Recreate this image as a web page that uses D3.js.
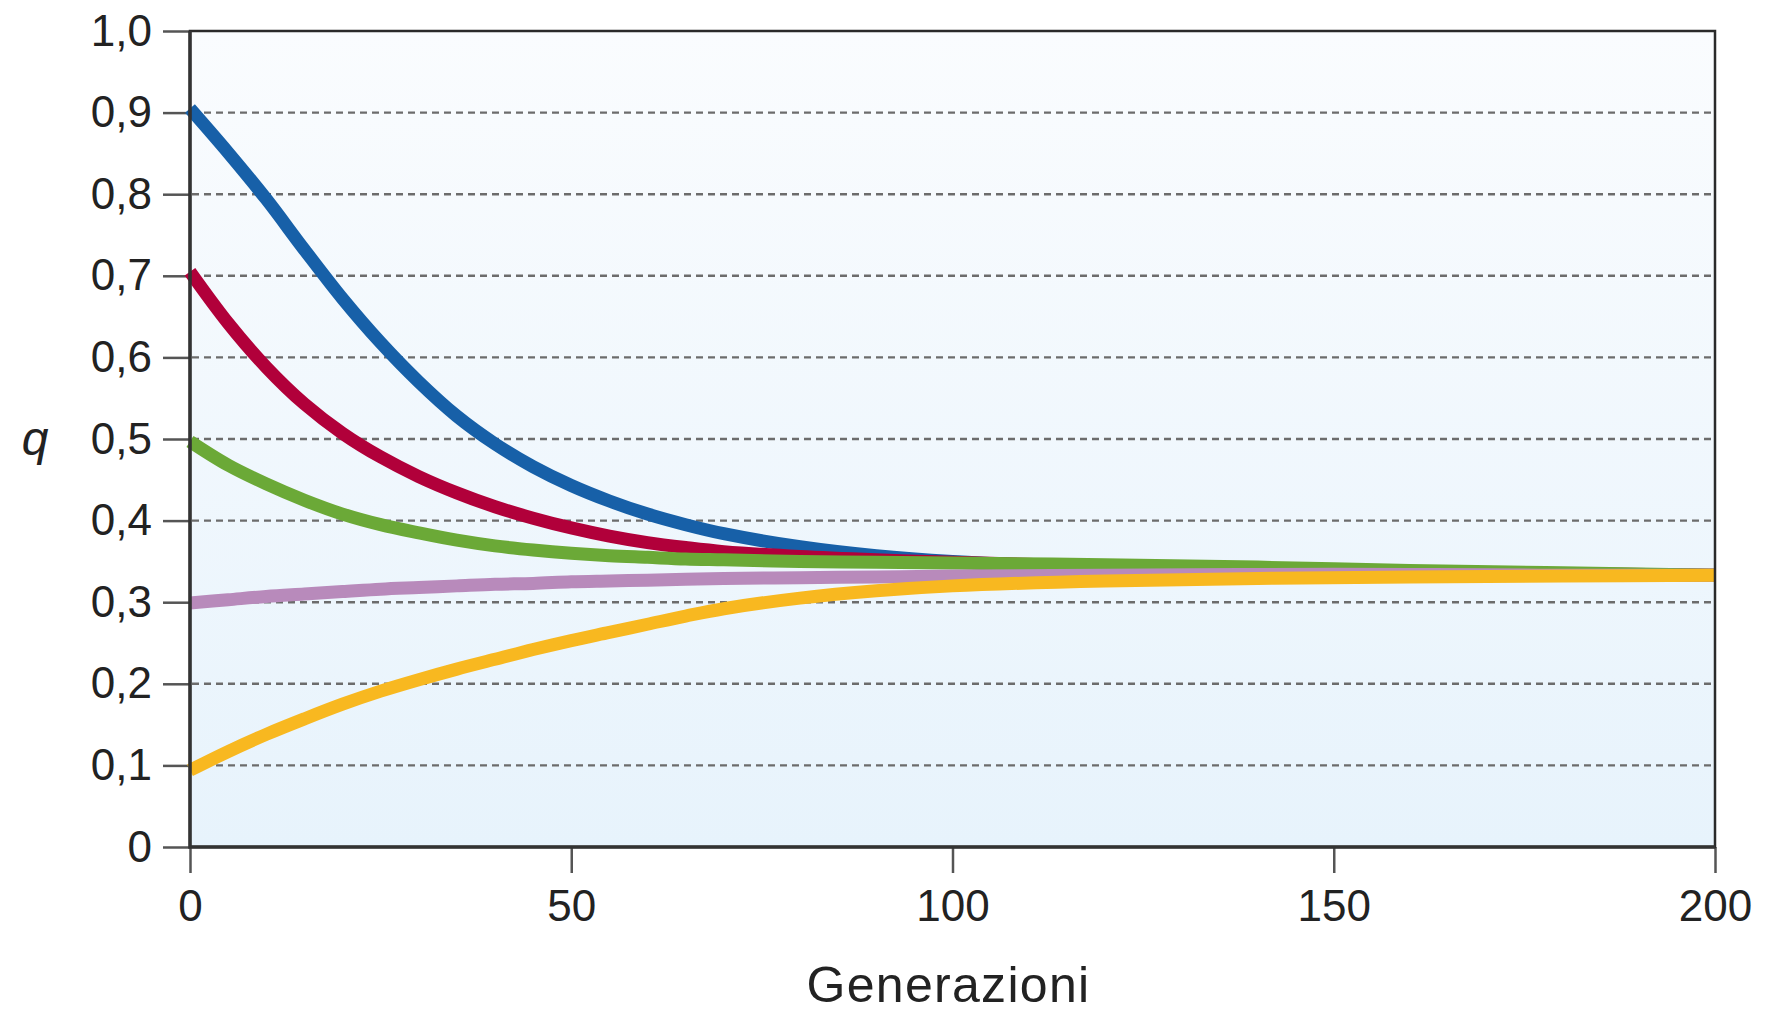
<!DOCTYPE html>
<html lang="it">
<head>
  <meta charset="UTF-8">
  <title>Frequenza allelica q per generazioni</title>
  <script src="https://d3js.org/d3.v7.min.js"></script>
  <style>
    body { margin: 0; padding: 0; background: #fff; }
    svg { display: block; font-family: "Liberation Sans", Arial, sans-serif; }
    .tick text { fill: #222; }
    .grid line { stroke: #6c6c6c; stroke-width: 2.4; stroke-dasharray: 7,5; }
    .series { fill: none; stroke-width: 13; stroke-linecap: butt; }
  </style>
</head>
<body>
  <div id="chart"></div>
  <script>
    // generations (x) shared by every curve
    const generations = [0, 5, 10, 15, 20, 25, 30, 35, 40, 45, 50, 55, 60, 65, 70, 80, 90, 100, 120, 140, 160, 180, 200];

    // q values
    const qBlue   = [0.905, 0.851, 0.794, 0.732, 0.672, 0.618, 0.570, 0.528, 0.494, 0.466, 0.443, 0.424, 0.408, 0.395, 0.384, 0.368, 0.357, 0.350, 0.342, 0.338, 0.336, 0.334, 0.333];
    const qRed    = [0.705, 0.642, 0.588, 0.543, 0.507, 0.478, 0.454, 0.434, 0.417, 0.403, 0.391, 0.381, 0.373, 0.367, 0.362, 0.356, 0.352, 0.349, 0.344, 0.340, 0.337, 0.335, 0.333];
    const qGreen  = [0.497, 0.468, 0.445, 0.425, 0.408, 0.395, 0.385, 0.376, 0.369, 0.364, 0.360, 0.357, 0.355, 0.353, 0.352, 0.350, 0.349, 0.348, 0.346, 0.343, 0.339, 0.336, 0.333];
    const qPurple = [0.299, 0.303, 0.307, 0.310, 0.313, 0.316, 0.318, 0.320, 0.322, 0.323, 0.325, 0.326, 0.327, 0.328, 0.329, 0.330, 0.331, 0.332, 0.333, 0.334, 0.334, 0.333, 0.333];
    const qYellow = [0.094, 0.117, 0.138, 0.157, 0.175, 0.191, 0.205, 0.218, 0.230, 0.242, 0.253, 0.263, 0.273, 0.283, 0.292, 0.305, 0.314, 0.320, 0.326, 0.329, 0.331, 0.332, 0.333];

    const yTicks = [0, 0.1, 0.2, 0.3, 0.4, 0.5, 0.6, 0.7, 0.8, 0.9, 1.0];
    const xTicks = [0, 50, 100, 150, 200];

    // drawing order: yellow ends up on top
    const series = [
      { name: "blu",    color: "#1760a8", values: qBlue },
      { name: "rosso",  color: "#b1003a", values: qRed },
      { name: "verde",  color: "#6ba937", values: qGreen },
      { name: "viola",  color: "#b88abb", values: qPurple },
      { name: "giallo", color: "#f8b820", values: qYellow }
    ];

    // dimensions
    const fullW = 1768, fullH = 1013;
    const margin = { top: 31, right: 53, bottom: 166, left: 190 };
    const width  = fullW - margin.left - margin.right;
    const height = fullH - margin.top - margin.bottom;

    const svg = d3.select("#chart").append("svg")
      .attr("width", fullW)
      .attr("height", fullH);

    const defs = svg.append("defs");
    const bg = defs.append("linearGradient")
      .attr("id", "bgGrad")
      .attr("x1", 0).attr("y1", 0).attr("x2", 0).attr("y2", 1);
    bg.append("stop").attr("offset", "0%").attr("stop-color", "#fafcfe");
    bg.append("stop").attr("offset", "100%").attr("stop-color", "#e7f3fc");

    const g = svg.append("g")
      .attr("transform", `translate(${margin.left},${margin.top})`);

    const x = d3.scaleLinear().domain([0, 200]).range([0, width]);
    const y = d3.scaleLinear().domain([0, 1]).range([height, 0]);

    // plot background
    g.append("rect")
      .attr("width", width)
      .attr("height", height)
      .attr("fill", "url(#bgGrad)");

    // dashed gridlines
    g.append("g")
      .attr("class", "grid")
      .selectAll("line")
      .data(yTicks.filter(d => d > 0 && d < 1))
      .enter().append("line")
        .attr("x1", 2)
        .attr("x2", width - 2)
        .attr("y1", d => y(d))
        .attr("y2", d => y(d));

    const fmt = d => d === 0 ? "0" : d3.format(".1f")(d).replace(".", ",");

    // axes
    const yAxis = g.append("g")
      .call(d3.axisLeft(y).tickValues(yTicks).tickSize(27).tickPadding(11).tickFormat(fmt));
    const xAxis = g.append("g")
      .attr("transform", `translate(0,${height})`)
      .call(d3.axisBottom(x).tickValues(xTicks).tickSize(26).tickPadding(17).tickFormat(d3.format("d")));

    [yAxis, xAxis].forEach(ax => {
      ax.select(".domain").remove();
      ax.selectAll(".tick line").attr("stroke", "#555").attr("stroke-width", 2.5);
      ax.selectAll(".tick text").style("font-size", "44px");
    });

    // curves
    const line = d3.line()
      .x((d, i) => x(generations[i]))
      .y(d => y(d))
      .curve(d3.curveCatmullRom.alpha(0.5));

    g.append("g")
      .selectAll("path")
      .data(series)
      .enter().append("path")
        .attr("class", "series")
        .attr("stroke", d => d.color)
        .attr("d", d => line(d.values));

    // frame
    g.append("rect")
      .attr("width", width)
      .attr("height", height)
      .attr("fill", "none")
      .attr("stroke", "#2a2a2a")
      .attr("stroke-width", 2.5);
    g.append("path")
      .attr("d", `M0,0V${height}H${width}`)
      .attr("fill", "none")
      .attr("stroke", "#333")
      .attr("stroke-width", 3.5);

    // axis titles
    svg.append("text")
      .attr("x", margin.left + width / 2 - 4)
      .attr("y", 1002)
      .attr("text-anchor", "middle")
      .style("font-size", "50px")
      .style("letter-spacing", "1.3px")
      .attr("fill", "#222")
      .text("Generazioni");

    svg.append("text")
      .attr("x", 35)
      .attr("y", 455)
      .attr("text-anchor", "middle")
      .style("font-size", "48px")
      .style("font-style", "italic")
      .attr("fill", "#222")
      .text("q");
  </script>
</body>
</html>
